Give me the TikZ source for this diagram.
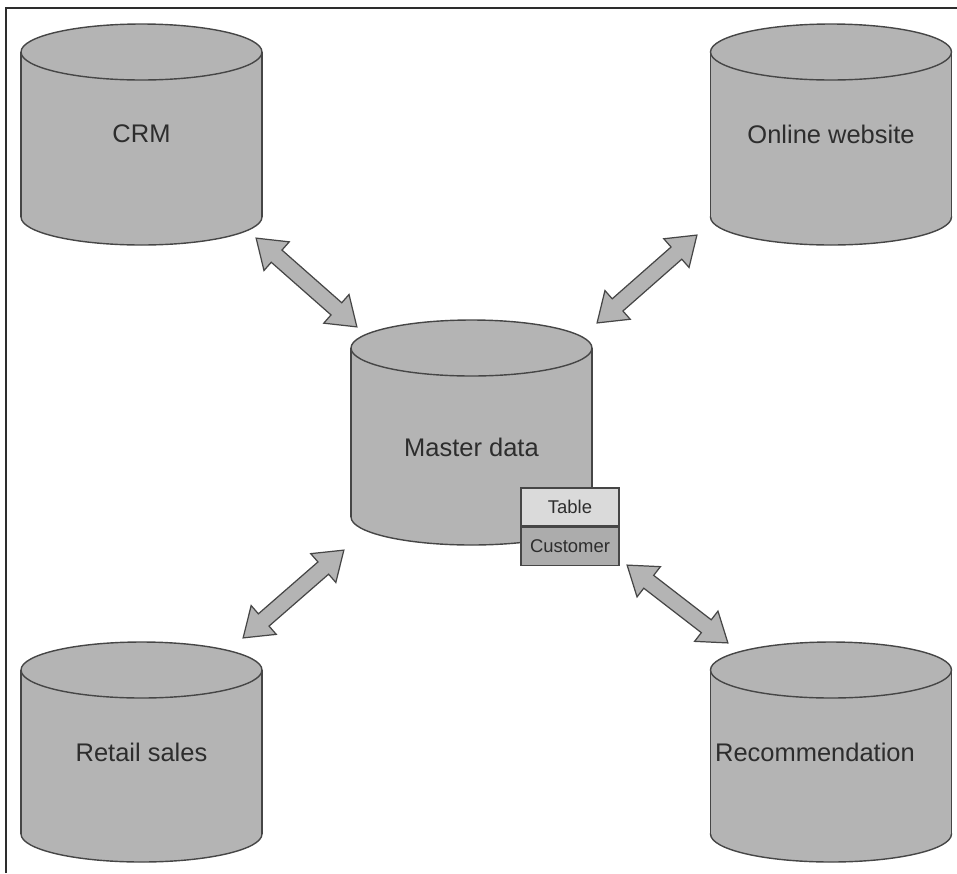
\documentclass[tikz,border=0pt]{standalone}
\usepackage{fontspec}
\setmainfont{Liberation Sans}
\usetikzlibrary{positioning,shapes.arrows,calc}
\definecolor{dbgray}{RGB}{180,180,180}
\definecolor{dbline}{RGB}{70,70,70}
\definecolor{ink}{RGB}{45,45,45}
\definecolor{cellhi}{RGB}{218,218,218}
\definecolor{celllo}{RGB}{172,172,172}

\tikzset{
  dbtext/.style={text=ink,font=\fontsize{14.5}{17}\selectfont},
  fatarrow/.style={double arrow,draw=dbline,fill=dbgray,line width=0.7pt,
    inner sep=0.15cm,minimum width=0.76cm,double arrow head extend=0.22cm,
    double arrow tip angle=70},
  cell/.style={draw=dbline,line width=0.8pt,minimum width=1.96cm,minimum height=0.76cm,
    inner sep=0pt,text=ink,font=\fontsize{10.5}{12}\selectfont}
}

\begin{document}
\begin{tikzpicture}[x=0.02cm,y=-0.02cm]
  \useasboundingbox (0,0) rectangle (957,873);
  \draw[ink,line width=0.9pt] (6,873) -- (6,8) -- (957,8);

  % cylinders: centre x / top-ellipse y / bottom-ellipse y
  \foreach \cx/\ty/\by in {141.5/52/217, 831/52/217, 471.5/348/517, 141.5/670/834, 831/670/834} {
    \filldraw[fill=dbgray,draw=dbline,line width=0.8pt] (\cx,\by) ellipse [x radius=2.41cm,y radius=0.56cm];
    \fill[dbgray] (\cx-120.5,\ty) rectangle (\cx+120.5,\by);
    \draw[dbline,line width=0.8pt] (\cx-120.5,\ty) -- (\cx-120.5,\by) (\cx+120.5,\ty) -- (\cx+120.5,\by);
    \filldraw[fill=dbgray,draw=dbline,line width=0.8pt] (\cx,\ty) ellipse [x radius=2.41cm,y radius=0.56cm];
  }

  \node[dbtext] (crm) at (141.5,134) {CRM};
  \node[dbtext] (web) at (831,134) {Online website};
  \node[dbtext] (master) at (471.5,447) {Master data};
  \node[dbtext] (retail) at (141.5,752) {Retail sales};
  \node[dbtext] (rec) at (815,752) {Recommendation};

  % table box
  \node[cell,fill=cellhi] (tbl) at (570,507) {Table};
  \node[cell,fill=celllo,below=0pt of tbl] (cust) {Customer};

  % arrow ends
  \coordinate (crm-end) at (256,238);
  \coordinate (master-nw) at (357,327);
  \coordinate (web-end) at (697,235);
  \coordinate (master-ne) at (597,323);
  \coordinate (retail-end) at (243,638);
  \coordinate (master-sw) at (344,550);
  \coordinate (cust-se) at (627,565);
  \coordinate (rec-end) at (728,643);

  \foreach \a/\b in {crm-end/master-nw,web-end/master-ne,retail-end/master-sw,cust-se/rec-end}
    \path let \p1=($(\b)-(\a)$),\n1={veclen(\x1,\y1)} in
      (\a) -- node[fatarrow,sloped,minimum height=\n1] {} (\b);
\end{tikzpicture}
\end{document}
